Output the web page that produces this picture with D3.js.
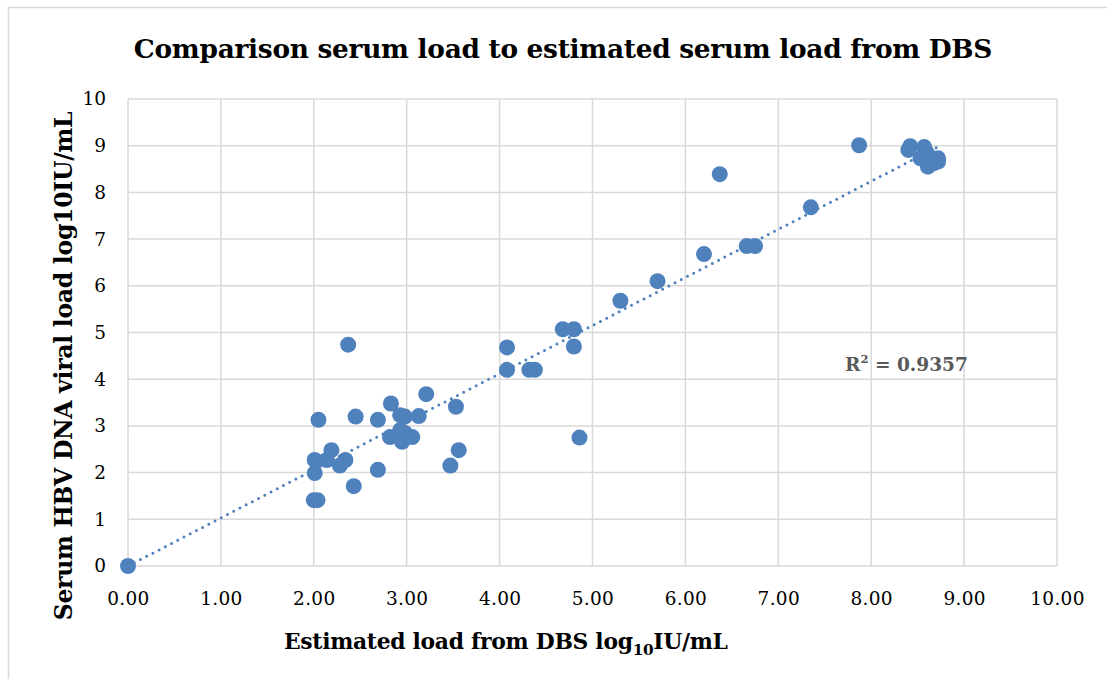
<!DOCTYPE html>
<html><head><meta charset="utf-8">
<script src="https://cdn.jsdelivr.net/npm/d3@7"></script>
<style>body{margin:0;background:#fff}svg{display:block}</style>
</head><body>
<svg id="c" width="1107" height="679"></svg>
<script>
const dbsX = [0.00,2.00,2.04,2.01,2.01,2.14,2.19,2.28,2.34,2.43,2.69,2.05,2.37,2.45,2.69,2.83,2.93,2.98,3.13,3.21,3.53,2.82,2.93,2.95,2.98,3.06,3.47,3.56,4.08,4.08,4.32,4.38,4.68,4.80,4.80,4.86,5.30,5.70,6.20,6.37,6.66,6.75,7.35,7.87,8.42,8.40,8.57,8.53,8.60,8.72,8.72,8.61,8.67];
const serumY = [0.00,1.41,1.41,1.99,2.27,2.27,2.48,2.15,2.27,1.71,2.06,3.13,4.74,3.20,3.13,3.48,3.23,3.20,3.21,3.68,3.41,2.76,2.91,2.66,2.85,2.76,2.15,2.48,4.68,4.20,4.20,4.20,5.07,5.07,4.70,2.75,5.68,6.10,6.68,8.39,6.85,6.85,7.68,9.01,8.99,8.91,8.97,8.73,8.84,8.73,8.66,8.55,8.62];
const trendX = [0.00, 8.72];
const trendY = [0.00, 8.98];
const xTicks = [0,1,2,3,4,5,6,7,8,9,10];
const yTicks = [0,1,2,3,4,5,6,7,8,9,10];
const rSquared = "0.9357";

const svg = d3.select("#c");
const x = d3.scaleLinear().domain([0,10]).range([128,1057]);
const y = d3.scaleLinear().domain([0,10]).range([566,99]);
const serif = "'DejaVu Serif', 'Liberation Serif', serif";

function fitWidth(sel, target) {
  const fs = parseFloat(sel.attr("font-size"));
  const w = sel.node().getComputedTextLength();
  if (w > 0) sel.attr("font-size", fs * target / w);
}

svg.append("rect").attr("x",8.5).attr("y",7.5).attr("width",1130).attr("height",700)
  .attr("fill","#fff").attr("stroke","#d9d9d9").attr("stroke-width",1.5);

const g = svg.append("g");
g.selectAll("line.gx").data(xTicks).join("line").attr("class","gx")
  .attr("x1",d=>x(d)).attr("x2",d=>x(d)).attr("y1",y(0)).attr("y2",y(10))
  .attr("stroke","#d9d9d9").attr("stroke-width",1.5);
g.selectAll("line.gy").data(yTicks).join("line").attr("class","gy")
  .attr("y1",d=>y(d)).attr("y2",d=>y(d)).attr("x1",x(0)).attr("x2",x(10))
  .attr("stroke","#d9d9d9").attr("stroke-width",1.5);

const xAxis = d3.axisBottom(x).tickValues(xTicks).tickFormat(d3.format(".2f")).tickSize(0).tickPadding(26);
const xa = svg.append("g").attr("transform",`translate(0,${y(0)})`).call(xAxis);
xa.select(".domain").remove();
xa.selectAll("text").attr("font-family",serif).attr("font-size",18.5).attr("fill","#000").attr("letter-spacing","0.3px");

const yAxis = d3.axisLeft(y).tickValues(yTicks).tickFormat(d3.format("d")).tickSize(0).tickPadding(22);
const ya = svg.append("g").attr("transform",`translate(${x(0)},0)`).call(yAxis);
ya.select(".domain").remove();
ya.selectAll("text").attr("font-family",serif).attr("font-size",18.5).attr("fill","#000");

const line = d3.line().x(d=>x(d[0])).y(d=>y(d[1]));
svg.append("path").datum(trendX.map((v,i)=>[v,trendY[i]]))
  .attr("d",line).attr("fill","none").attr("stroke","#4f81bd").attr("stroke-width",3)
  .attr("stroke-linecap","round").attr("stroke-dasharray","0,7");

svg.append("g").selectAll("circle").data(dbsX.map((v,i)=>[v,serumY[i]])).join("circle")
  .attr("cx",d=>x(d[0])).attr("cy",d=>y(d[1])).attr("r",8).attr("fill","#4f81bd");

const title = svg.append("text").attr("x",563).attr("y",58).attr("text-anchor","middle")
  .attr("font-family",serif).attr("font-weight","bold").attr("font-size",28).attr("letter-spacing","-0.3px")
  .text("Comparison serum load to estimated serum load from DBS");
fitWidth(title, 860);

const xl = svg.append("text").attr("x",284).attr("y",649)
  .attr("font-family",serif).attr("font-weight","bold").attr("font-size",22).attr("letter-spacing","-0.3px");
xl.append("tspan").text("Estimated load from DBS log");
xl.append("tspan").attr("dy",6).attr("font-size","0.7em").text("10");
xl.append("tspan").attr("dy",-6).text("IU/mL");
fitWidth(xl, 444);

const yl = svg.append("text").attr("transform","translate(72,366) rotate(-90)").attr("text-anchor","middle")
  .attr("font-family",serif).attr("font-weight","bold").attr("font-size",22).attr("letter-spacing","-0.3px")
  .text("Serum HBV DNA viral load log10IU/mL");
fitWidth(yl, 508);

const rl = svg.append("text").attr("x",845).attr("y",371)
  .attr("font-family",serif).attr("font-weight","bold").attr("font-size",20).attr("fill","#595959");
rl.append("tspan").text("R");
rl.append("tspan").attr("dy",-8).attr("font-size","0.62em").text("2");
rl.append("tspan").attr("dy",8).text(" = " + rSquared);
fitWidth(rl, 123);
</script>
</body></html>
